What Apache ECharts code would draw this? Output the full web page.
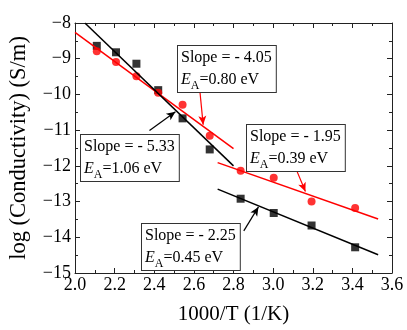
<!DOCTYPE html>
<html><head><meta charset="utf-8">
<script src="https://cdn.jsdelivr.net/npm/echarts@6/dist/echarts.min.js"></script>
<style>html,body{margin:0;padding:0;background:#fff}#c{width:407px;height:330px}</style>
</head><body><div id="c"></div>
<script>
// data
const invT = [2.11, 2.207, 2.31, 2.42, 2.543, 2.68, 2.836, 3.003, 3.194, 3.414];
const blackSq = [-8.64, -8.82, -9.14, -9.88, -10.67, -11.54, -12.92, -13.32, -13.67, -14.28];
const redCirc = [-8.79, -9.09, -9.49, -9.95, -10.29, -11.16, -12.14, -12.33, -13.00, -13.18];
// fitted lines (end points)
const fitBlackHigh = [[2.05, -8.0], [2.80, -12.0]];
const fitBlackLow = [[2.72, -12.65], [3.53, -14.49]];
const fitRedHigh = [[2.0, -8.26], [2.80, -11.52]];
const fitRedLow = [[2.72, -11.91], [3.53, -13.49]];
// annotations
const notes = [
  {slope: '- 4.05', ea: '0.80'},
  {slope: '- 5.33', ea: '1.06'},
  {slope: '- 1.95', ea: '0.39'},
  {slope: '- 2.25', ea: '0.45'}
];
const arrows = [
  {from: [2.631, -9.946], to: [2.647, -10.85], color: '#ff0000'},
  {from: [2.376, -11.008], to: [2.507, -10.486], color: '#000000'},
  {from: [3.107, -11.973], to: [3.163, -12.72], color: '#ff0000'},
  {from: [2.852, -13.819], to: [2.926, -13.15], color: '#000000'}
];
const xMin = 2.0, xMax = 3.6, xStep = 0.2;
const yMin = -15, yMax = -8, yStep = 1;

const FONT = 'Liberation Serif';
const RED = '#ff0000';
const AX = '#222';
function pair(xs, ys) { return xs.map((x, i) => [x, ys[i]]); }

const chart = echarts.init(document.getElementById('c'), null, {renderer: 'canvas'});
const axisCommon = {
  axisLine: {show: true, onZero: false, lineStyle: {color: AX, width: 1}},
  axisTick: {show: true, inside: true, length: 5, lineStyle: {color: AX}},
  minorTick: {show: true, splitNumber: 2, length: 3, lineStyle: {color: AX}},
  splitLine: {show: false}
};
const boxPos = [[177, 45], [80, 134], [246, 124], [141, 223]];
const rich = {
  n: {fontFamily: FONT, fontSize: 16, lineHeight: 22, color: '#000'},
  i: {fontFamily: FONT, fontSize: 16, lineHeight: 22, fontStyle: 'italic', color: '#000'},
  s: {fontFamily: FONT, fontSize: 12, lineHeight: 12, padding: [11, 0, 0, 0], color: '#000'}
};
const graphics = notes.map((n, k) => ({
  type: 'text', left: boxPos[k][0], top: boxPos[k][1], z: 100,
  style: {
    text: '{n|Slope = ' + n.slope + '}\n{i|E}{s|A}{n|=' + n.ea + ' eV}',
    rich: rich, backgroundColor: '#fff', borderColor: '#333', borderWidth: 1,
    padding: [1, 4, 1, 3]
  }
}));

chart.setOption({
  animation: false,
  backgroundColor: '#fff',
  grid: {left: 67, right: 15, top: 23, bottom: 48, containLabel: false},
  xAxis: [
    Object.assign({type: 'value', min: xMin, max: xMax, interval: xStep, position: 'bottom',
      name: '1000/T (1/K)', nameLocation: 'middle', nameGap: 31,
      nameTextStyle: {fontFamily: FONT, fontSize: 21, color: '#000'},
      axisLabel: {fontFamily: FONT, fontSize: 18, color: '#000', margin: 3,
        formatter: v => v.toFixed(1)}}, axisCommon),
    Object.assign({type: 'value', min: xMin, max: xMax, interval: xStep, position: 'top',
      axisLabel: {show: false}}, axisCommon)
  ],
  yAxis: [
    Object.assign({type: 'value', min: yMin, max: yMax, interval: yStep, position: 'left',
      name: 'log (Conductivity) (S/m)', nameLocation: 'middle', nameGap: 44,
      nameTextStyle: {fontFamily: FONT, fontSize: 22.5, color: '#000'},
      axisLabel: {fontFamily: FONT, fontSize: 18, color: '#000', margin: 4,
        formatter: v => String(v).replace('-', '\u2212')}}, axisCommon),
    Object.assign({type: 'value', min: yMin, max: yMax, interval: yStep, position: 'right',
      axisLabel: {show: false}}, axisCommon)
  ],
  series: [
    {type: 'line', data: fitRedHigh, symbol: 'none', lineStyle: {color: RED, width: 1.5}, clip: true},
    {type: 'line', data: fitRedLow, symbol: 'none', lineStyle: {color: RED, width: 1.5}, clip: true},
    {type: 'line', data: fitBlackHigh, symbol: 'none', lineStyle: {color: '#000', width: 1.5}, clip: true},
    {type: 'line', data: fitBlackLow, symbol: 'none', lineStyle: {color: '#000', width: 1.5}, clip: true},
    {type: 'scatter', data: pair(invT, blackSq), symbol: 'rect', symbolSize: 8, itemStyle: {color: '#000'}},
    {type: 'scatter', data: pair(invT, redCirc), symbol: 'circle', symbolSize: 8, itemStyle: {color: RED}},
    {type: 'scatter', data: [], silent: true,
      markLine: {silent: true, animation: false, symbol: ['none', 'arrow'], symbolSize: [6, 9],
        label: {show: false},
        data: arrows.map(a => [
          {coord: a.from, lineStyle: {color: a.color, width: 1.2, type: 'solid'}},
          {coord: a.to}
        ])}}
  ],
  graphic: graphics
});
</script></body></html>
